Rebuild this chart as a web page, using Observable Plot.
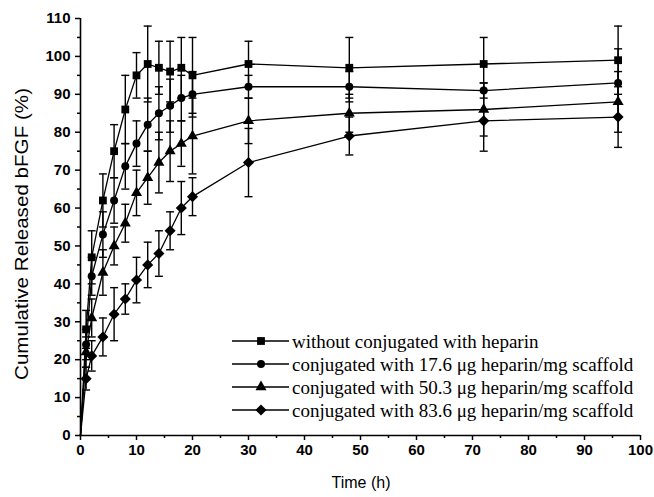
<!DOCTYPE html>
<html>
<head>
<meta charset="utf-8">
<script src="https://cdn.jsdelivr.net/npm/d3@7"></script>
<script src="https://cdn.jsdelivr.net/npm/@observablehq/plot@0.6"></script>
<style>
  html, body { margin: 0; padding: 0; background: #fff; }
  #chart { width: 654px; height: 497px; }
</style>
</head>
<body>
<div id="chart"></div>
<script>
// ---- data ----
const times = [0, 1, 2, 4, 6, 8, 10, 12, 14, 16, 18, 20, 30, 48, 72, 96];
const seriesNames = [
  "without conjugated with heparin",
  "conjugated with 17.6 \u03bcg heparin/mg scaffold",
  "conjugated with 50.3 \u03bcg heparin/mg scaffold",
  "conjugated with 83.6 \u03bcg heparin/mg scaffold"
];
const noHeparin     = [0, 28, 47, 62, 75, 86, 95, 98, 97, 96, 97, 95, 98, 97, 98, 99];
const noHeparinErr  = [0, 5, 7, 7, 7, 9, 6, 10, 7, 8, 8, 10, 6, 8, 7, 9];
const hep176        = [0, 24, 42, 53, 62, 71, 77, 82, 85, 87, 89, 90, 92, 92, 91, 93];
const hep176Err     = [0, 4, 5, 6, 6, 6, 6, 7, 7, 7, 6, 6, 3, 4, 2, 9];
const hep503        = [0, 22, 31, 43, 50, 56, 64, 68, 72, 75, 77, 79, 83, 85, 86, 88];
const hep503Err     = [0, 4, 5, 6, 5, 5, 6, 7, 8, 8, 6, 10, 6, 5, 7, 8];
const hep836        = [0, 15, 21, 26, 32, 36, 41, 45, 48, 54, 60, 63, 72, 79, 83, 84];
const hep836Err     = [0, 3, 4, 5, 7, 4, 6, 6, 6, 5, 7, 5, 9, 5, 8, 8];
const xTicks = [0, 10, 20, 30, 40, 50, 60, 70, 80, 90, 100];
const yTicks = [0, 10, 20, 30, 40, 50, 60, 70, 80, 90, 100, 110];
const xTitle = "Time (h)";
const yTitle = "Cumulative Released bFGF (%)";

// ---- build table ----
const valueSets = [noHeparin, hep176, hep503, hep836];
const errSets = [noHeparinErr, hep176Err, hep503Err, hep836Err];
const symbols = ["square", "circle", "triangle", "diamond2"];
const radii = [4.4, 4.0, 4.1, 5.0];
const rows = [];
seriesNames.forEach((s, i) => {
  times.forEach((t, j) => {
    rows.push({s, t, v: valueSets[i][j], e: errSets[i][j]});
  });
});
const errRows = rows.filter(d => d.e > 0);

const capSymbol = {
  draw(ctx, size) {
    const w = Math.sqrt(size / Math.PI);
    ctx.moveTo(-w, 0);
    ctx.lineTo(w, 0);
  }
};

const minorX = d3.range(5, 100, 10);
const minorY = d3.range(5, 110, 10);

const chart = Plot.plot({
  width: 654,
  height: 497,
  marginLeft: 80,
  marginRight: 14,
  marginTop: 18,
  marginBottom: 62,
  x: {domain: [0, 100]},
  y: {domain: [0, 110]},
  style: {fontFamily: "'Liberation Sans', Arial, sans-serif", background: "white", color: "black"},
  marks: [
    Plot.axisX({ticks: xTicks, tickSize: 5, tickPadding: 4, fontSize: 15, fontWeight: "bold", label: null, strokeWidth: 1.5}),
    Plot.axisX({ticks: minorX, tickSize: 3, text: null, label: null, strokeWidth: 1.5}),
    Plot.axisY({ticks: yTicks, tickSize: 5, tickPadding: 5, fontSize: 15, fontWeight: "bold", label: null, strokeWidth: 1.5}),
    Plot.axisY({ticks: minorY, tickSize: 3, text: null, label: null, strokeWidth: 1.5}),
    Plot.ruleX([0], {strokeWidth: 1.6}),
    Plot.ruleY([0], {strokeWidth: 1.6}),
    Plot.ruleX(errRows, {x: "t", y1: d => d.v - d.e, y2: d => d.v + d.e, stroke: "black", strokeWidth: 1.4}),
    Plot.dot(errRows, {x: "t", y: d => d.v - d.e, symbol: capSymbol, r: 4, stroke: "black", strokeWidth: 1.4, fill: "none"}),
    Plot.dot(errRows, {x: "t", y: d => d.v + d.e, symbol: capSymbol, r: 4, stroke: "black", strokeWidth: 1.4, fill: "none"}),
    Plot.line(rows, {x: "t", y: "v", z: "s", stroke: "black", strokeWidth: 1.3}),
    ...seriesNames.map((s, i) => Plot.dot(rows.filter(d => d.s === s && d.t > 0), {
      x: "t", y: "v", symbol: symbols[i], r: radii[i], fill: "black", stroke: "none"
    }))
  ]
});

document.getElementById("chart").appendChild(chart);

// ---- titles and legend ----
const svg = d3.select(chart);
svg.append("text")
  .attr("transform", "translate(22,234) rotate(-90)")
  .attr("text-anchor", "middle")
  .attr("dominant-baseline", "central")
  .attr("font-family", "'Liberation Sans', Arial, sans-serif")
  .attr("font-size", 18)
  .attr("textLength", 292)
  .attr("lengthAdjust", "spacingAndGlyphs")
  .attr("fill", "black")
  .text(yTitle);
svg.append("text")
  .attr("x", 361)
  .attr("y", 482)
  .attr("text-anchor", "middle")
  .attr("dominant-baseline", "central")
  .attr("font-family", "'Liberation Sans', Arial, sans-serif")
  .attr("font-size", 16)
  .attr("fill", "black")
  .text(xTitle);

const legend = svg.append("g");
const legendSym = symbols.map(s => ({square: d3.symbolSquare, circle: d3.symbolCircle, triangle: d3.symbolTriangle, diamond2: d3.symbolDiamond2})[s]);
seriesNames.forEach((s, i) => {
  const g = legend.append("g").attr("transform", `translate(0,${341 + i * 23})`);
  g.append("line").attr("x1", 232).attr("x2", 289).attr("y1", 0).attr("y2", 0)
    .attr("stroke", "black").attr("stroke-width", 1.3);
  g.append("path").attr("transform", "translate(261,0)")
    .attr("d", d3.symbol(legendSym[i], Math.PI * radii[i] * radii[i])())
    .attr("fill", "black");
  g.append("text").attr("x", 292).attr("y", 0)
    .attr("text-anchor", "start")
    .attr("dominant-baseline", "central")
    .attr("font-family", "'Liberation Serif', 'Times New Roman', serif")
    .attr("font-size", 19)
    .attr("fill", "black")
    .text(s);
});
</script>
</body>
</html>
